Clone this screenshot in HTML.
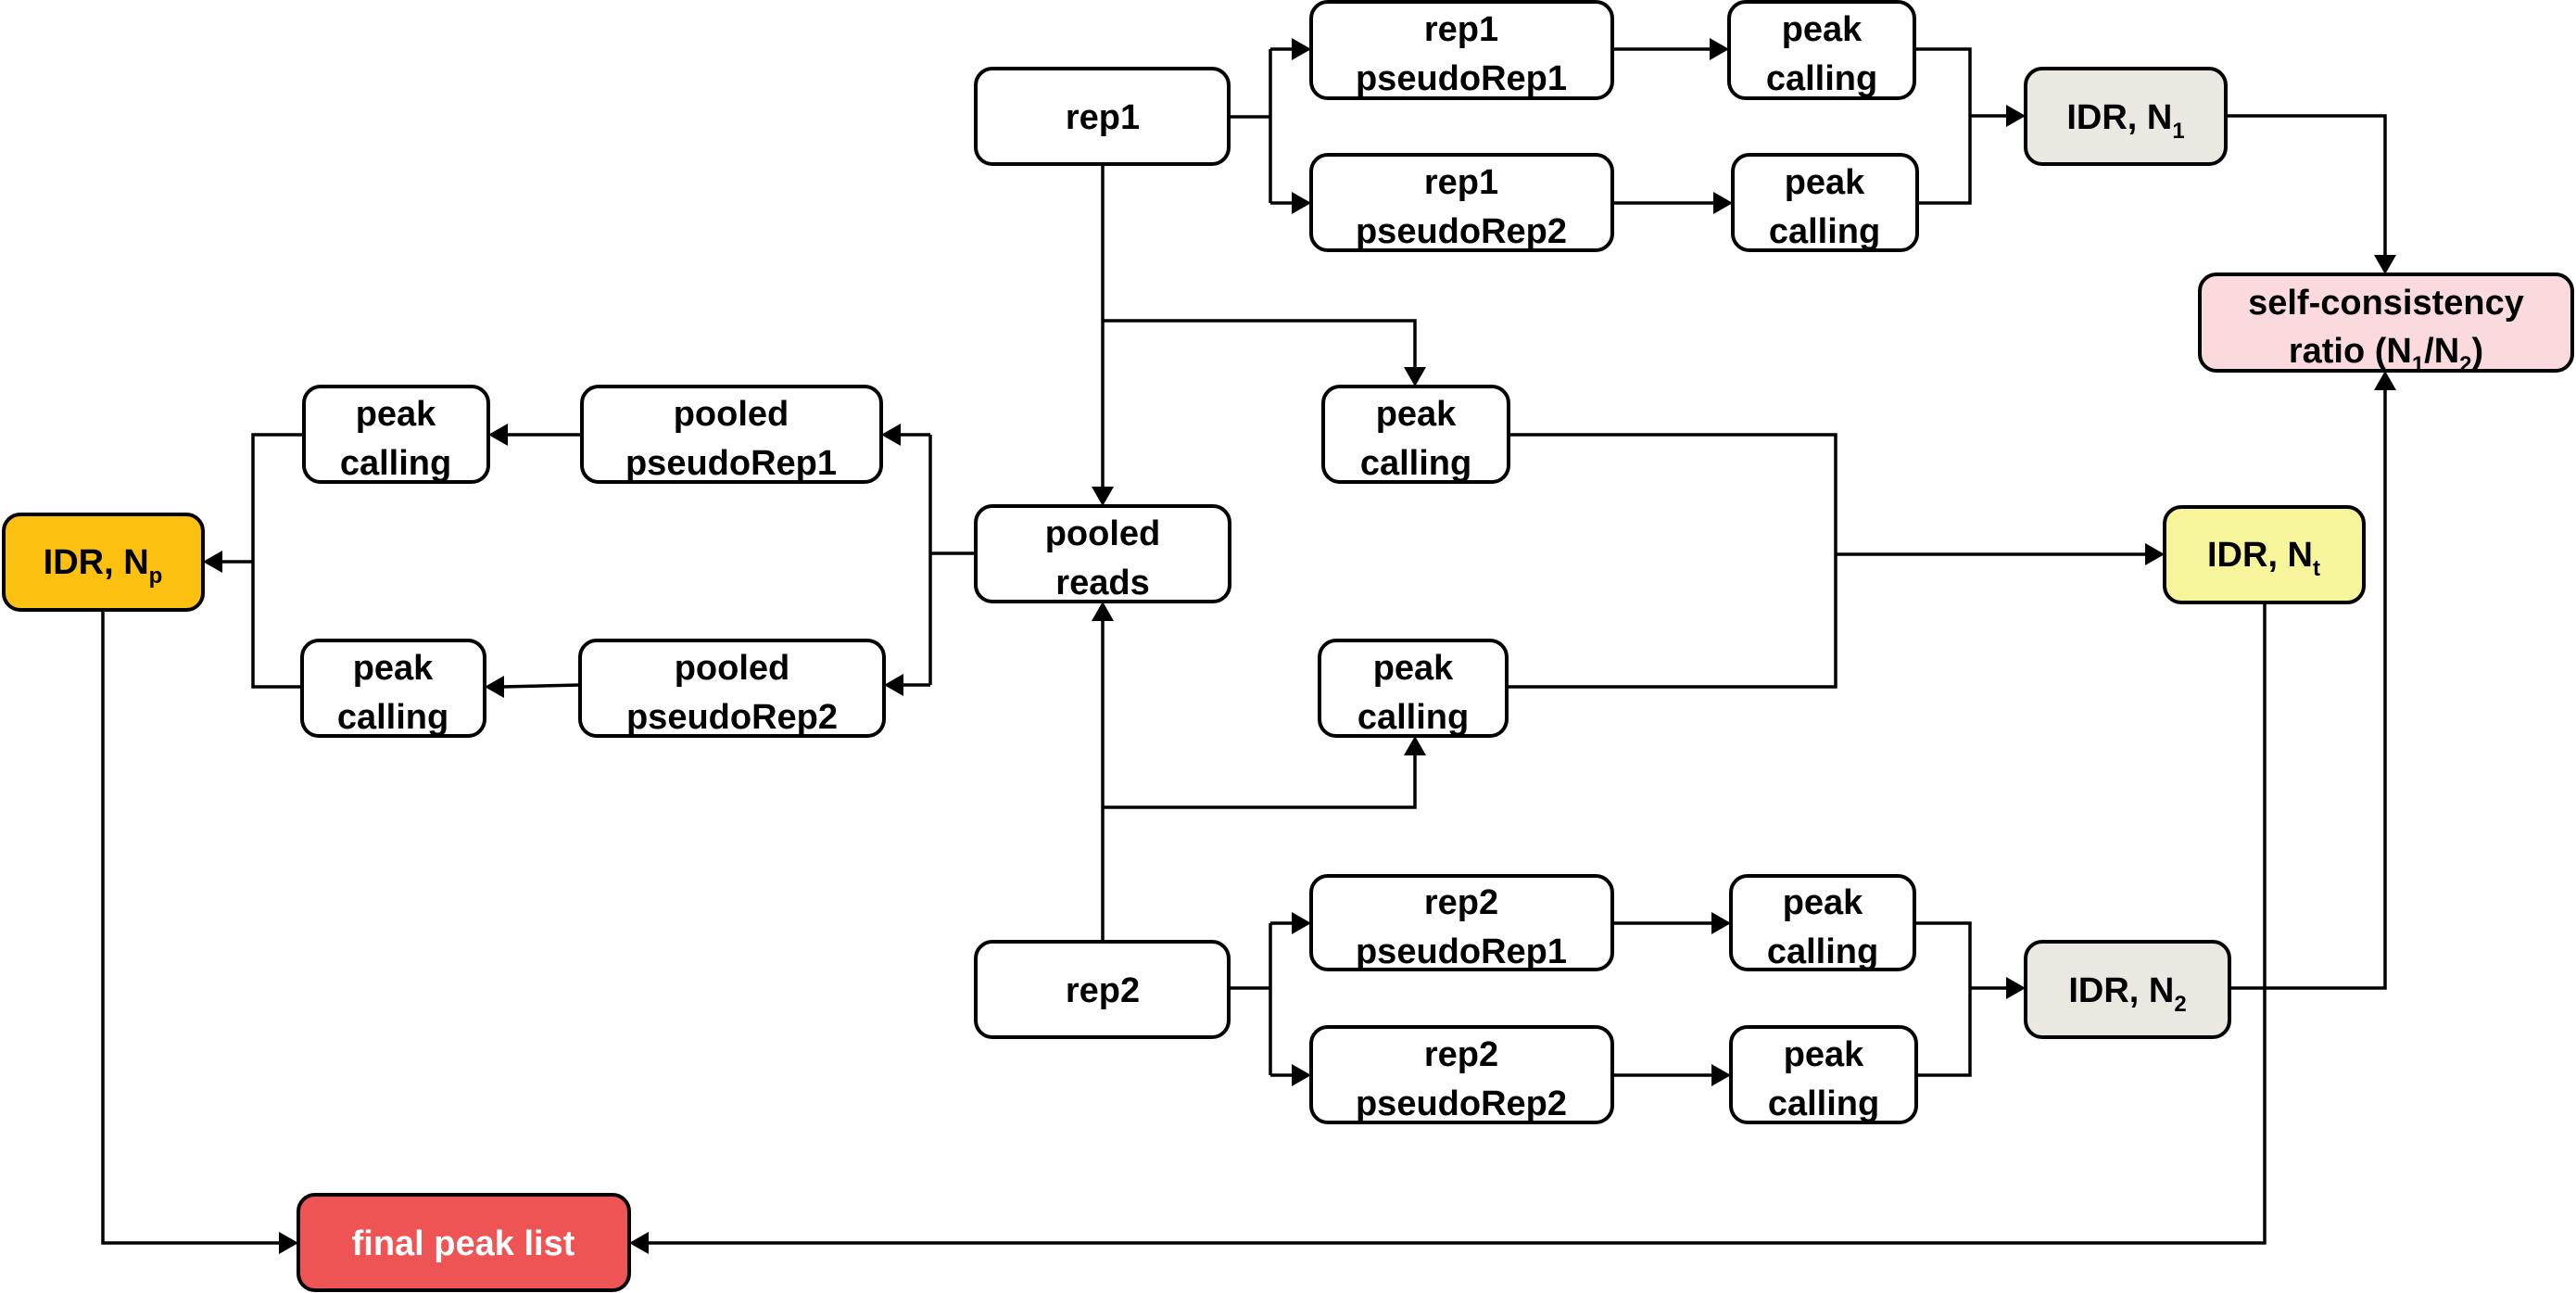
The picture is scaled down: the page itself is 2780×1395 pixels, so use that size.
<!DOCTYPE html>
<html><head><meta charset="utf-8"><style>
html,body{margin:0;padding:0;background:#fff;}
svg{display:block;}
text{font-family:"Liberation Sans",sans-serif;font-weight:bold;font-size:38px;fill:#000;text-anchor:middle;}
.sub{font-size:24px;}
</style></head><body>
<svg width="2780" height="1395" viewBox="0 0 2780 1395" xmlns="http://www.w3.org/2000/svg">
<g fill="none" stroke="#000" stroke-width="3.5">
<polyline points="1327,126 1371,126"/>
<polyline points="1371,53 1371,219"/>
<line x1="1371" y1="53" x2="1396" y2="53"/>
<line x1="1371" y1="219" x2="1396" y2="219"/>
<line x1="1740" y1="53" x2="1847" y2="53"/>
<line x1="1740" y1="219" x2="1851" y2="219"/>
<polyline points="2066,53 2126,53 2126,219 2069,219"/>
<line x1="2126" y1="125" x2="2167" y2="125"/>
<polyline points="2402,125 2574,125 2574,277"/>
<line x1="1190" y1="177" x2="1190" y2="527"/>
<polyline points="1190,346 1527,346 1527,398"/>
<polyline points="1053,597 1004,597"/>
<polyline points="1004,469 1004,739"/>
<line x1="1004" y1="469" x2="970" y2="469"/>
<line x1="1004" y1="739" x2="973" y2="739"/>
<line x1="628" y1="469" x2="546" y2="469"/>
<line x1="626" y1="739" x2="542" y2="741"/>
<polyline points="328,469 273,469 273,741 326,741"/>
<line x1="273" y1="606" x2="238" y2="606"/>
<polyline points="1628,469 1981,469 1981,741 1626,741"/>
<line x1="1981" y1="598" x2="2317" y2="598"/>
<line x1="1190" y1="1016" x2="1190" y2="668"/>
<polyline points="1190,871 1527,871 1527,813"/>
<line x1="1327" y1="1066" x2="1371" y2="1066"/>
<polyline points="1371,996 1371,1160"/>
<line x1="1371" y1="996" x2="1396" y2="996"/>
<line x1="1371" y1="1160" x2="1396" y2="1160"/>
<line x1="1740" y1="996" x2="1849" y2="996"/>
<line x1="1740" y1="1160" x2="1849" y2="1160"/>
<polyline points="2066,996 2126,996 2126,1160 2068,1160"/>
<line x1="2126" y1="1066" x2="2167" y2="1066"/>
<polyline points="2406,1066 2574,1066 2574,419"/>
<polyline points="111,658 111,1341 303,1341"/>
<polyline points="2444,650 2444,1341 698,1341"/>
</g>
<g fill="#000">
<polygon points="1415,53 1394,41 1394,65"/>
<polygon points="1415,219 1394,207 1394,231"/>
<polygon points="1866,53 1845,41 1845,65"/>
<polygon points="1870,219 1849,207 1849,231"/>
<polygon points="2186,125 2165,113 2165,137"/>
<polygon points="2336,598 2315,586 2315,610"/>
<polygon points="1415,996 1394,984 1394,1008"/>
<polygon points="1415,1160 1394,1148 1394,1172"/>
<polygon points="1868,996 1847,984 1847,1008"/>
<polygon points="1868,1160 1847,1148 1847,1172"/>
<polygon points="2186,1066 2165,1054 2165,1078"/>
<polygon points="322,1341 301,1329 301,1353"/>
<polygon points="951,469 972,457 972,481"/>
<polygon points="954,739 975,727 975,751"/>
<polygon points="527,469 548,457 548,481"/>
<polygon points="523,741 544,729 544,753"/>
<polygon points="219,606 240,594 240,618"/>
<polygon points="679,1341 700,1329 700,1353"/>
<polygon points="1190,546 1178,525 1202,525"/>
<polygon points="1527,417 1515,396 1539,396"/>
<polygon points="2574,296 2562,275 2586,275"/>
<polygon points="1190,649 1178,670 1202,670"/>
<polygon points="1527,794 1515,815 1539,815"/>
<polygon points="2574,400 2562,421 2586,421"/>
</g>
<g stroke="#000" stroke-width="4">
<rect x="1053" y="74" width="273" height="103" rx="18" fill="#fff"/>
<rect x="1415" y="2" width="325" height="104" rx="18" fill="#fff"/>
<rect x="1415" y="167" width="325" height="103" rx="18" fill="#fff"/>
<rect x="1866" y="2" width="200" height="104" rx="18" fill="#fff"/>
<rect x="1870" y="167" width="199" height="103" rx="18" fill="#fff"/>
<rect x="2186" y="74" width="216" height="103" rx="18" fill="#ebe8e2"/>
<rect x="2374" y="296" width="402" height="104" rx="18" fill="#fadadd"/>
<rect x="2336" y="547" width="215" height="103" rx="18" fill="#f7f59c"/>
<rect x="1428" y="417" width="200" height="103" rx="18" fill="#fff"/>
<rect x="1424" y="691" width="202" height="103" rx="18" fill="#fff"/>
<rect x="328" y="417" width="199" height="103" rx="18" fill="#fff"/>
<rect x="628" y="417" width="323" height="103" rx="18" fill="#fff"/>
<rect x="326" y="691" width="197" height="103" rx="18" fill="#fff"/>
<rect x="626" y="691" width="328" height="103" rx="18" fill="#fff"/>
<rect x="4" y="555" width="215" height="103" rx="18" fill="#fcc010"/>
<rect x="1053" y="546" width="274" height="103" rx="18" fill="#fff"/>
<rect x="1053" y="1016" width="273" height="103" rx="18" fill="#fff"/>
<rect x="1415" y="945" width="325" height="101" rx="18" fill="#fff"/>
<rect x="1415" y="1108" width="325" height="103" rx="18" fill="#fff"/>
<rect x="1868" y="945" width="198" height="101" rx="18" fill="#fff"/>
<rect x="1868" y="1108" width="200" height="103" rx="18" fill="#fff"/>
<rect x="2186" y="1016" width="220" height="103" rx="18" fill="#ebe8e2"/>
<rect x="322" y="1289" width="357" height="103" rx="18" fill="#ef5455"/>
</g>
<text x="1190" y="139">rep1</text>
<text x="1577" y="44">rep1</text><text x="1577" y="97">pseudoRep1</text>
<text x="1577" y="209">rep1</text><text x="1577" y="262">pseudoRep2</text>
<text x="1966" y="44">peak</text><text x="1966" y="97">calling</text>
<text x="1969" y="209">peak</text><text x="1969" y="262">calling</text>
<text x="2294" y="139">IDR, N<tspan class="sub" dy="10">1</tspan></text>
<text x="2575" y="339">self-consistency</text>
<text x="2575" y="391">ratio (N<tspan class="sub" dy="10">1</tspan><tspan dy="-10">/N</tspan><tspan class="sub" dy="10">2</tspan><tspan dy="-10">)</tspan></text>
<text x="2443" y="611">IDR, N<tspan class="sub" dy="10">t</tspan></text>
<text x="1528" y="459">peak</text><text x="1528" y="512">calling</text>
<text x="1525" y="733">peak</text><text x="1525" y="786">calling</text>
<text x="427" y="459">peak</text><text x="427" y="512">calling</text>
<text x="789" y="459">pooled</text><text x="789" y="512">pseudoRep1</text>
<text x="424" y="733">peak</text><text x="424" y="786">calling</text>
<text x="790" y="733">pooled</text><text x="790" y="786">pseudoRep2</text>
<text x="111" y="619">IDR, N<tspan class="sub" dy="10">p</tspan></text>
<text x="1190" y="588">pooled</text><text x="1190" y="641">reads</text>
<text x="1190" y="1081">rep2</text>
<text x="1577" y="986">rep2</text><text x="1577" y="1039">pseudoRep1</text>
<text x="1577" y="1150">rep2</text><text x="1577" y="1203">pseudoRep2</text>
<text x="1967" y="986">peak</text><text x="1967" y="1039">calling</text>
<text x="1968" y="1150">peak</text><text x="1968" y="1203">calling</text>
<text x="2296" y="1081">IDR, N<tspan class="sub" dy="10">2</tspan></text>
<text x="500" y="1354" style="fill:#fff">final peak list</text>
</svg>
</body></html>
